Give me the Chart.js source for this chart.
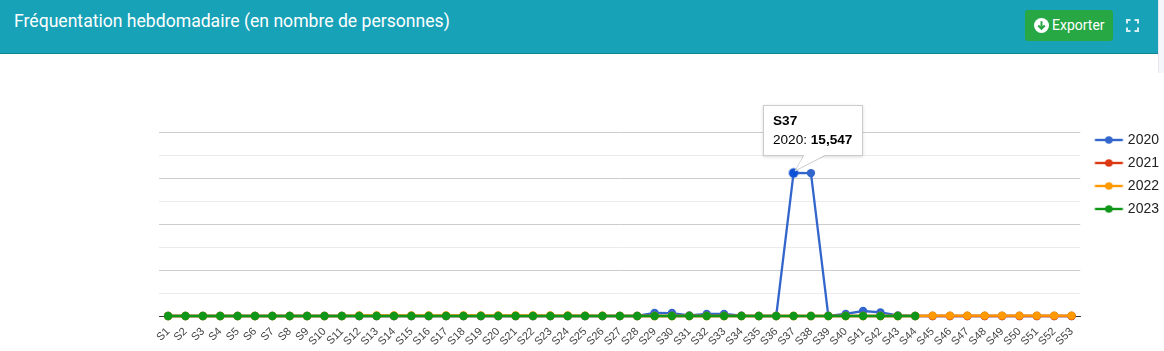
<!DOCTYPE html>
<html lang="fr">
<head>
<meta charset="utf-8">
<title>Fréquentation hebdomadaire</title>
<script src="https://cdn.jsdelivr.net/npm/chart.js@4"></script>
<style>
  html, body { margin: 0; padding: 0; background: #fff; overflow: hidden; }
  body { width: 1164px; height: 351px; position: relative; }
  .strip { position: absolute; left: 1158px; top: 0; width: 6px; height: 73px; background: #f4f6f9; border-left: 1px solid #e6e8ee; box-sizing: border-box; }
  .header {
    position: absolute; left: 0; top: 0; width: 1158px; height: 54px;
    background: #17a2b8; border-bottom: 1px solid #138496; box-sizing: border-box;
  }
  .header h3 {
    position: absolute; left: 14px; top: 11px; margin: 0;
    font: 400 17.6px Roboto, sans-serif; color: #fff; white-space: nowrap;
  }
  .btn {
    position: absolute; left: 1025px; top: 10px; width: 88px; height: 31px;
    background: #28a745; border-radius: 3px; color: #fff;
    font: 400 14px Roboto, sans-serif; line-height: 31px;
  }
  .btn svg { position: absolute; left: 9px; top: 8px; }
  .btn span { position: absolute; left: 27px; top: 0; }
  .expand { position: absolute; left: 1126px; top: 19px; }
  #wrap { position: absolute; left: 0; top: 53px; width: 1164px; height: 298px; }
  #tip { position: absolute; font: 13.6px "Liberation Sans", Arial, sans-serif; color: #000; pointer-events: none; display: none; }
  #tipTail { position: absolute; left: 0; top: 0; }
  #tipBox {
    position: absolute; left: 0; top: 0; width: 100px; height: 51px; box-sizing: border-box;
    background: #fff; border: 1px solid #ccc; box-shadow: 0 1px 3px rgba(0,0,0,.15);
    padding: 5px 0 0 9px; line-height: 19px; white-space: nowrap;
  }
</style>
</head>
<body>
<div class="strip"></div>
<div class="header">
  <h3>Fréquentation hebdomadaire (en nombre de personnes)</h3>
  <div class="btn">
    <svg width="15" height="15" viewBox="0 0 15 15"><circle cx="7.5" cy="7.5" r="7.5" fill="#fff"/><path d="M7.5 3.2v7.6M4.2 7.5l3.3 3.3 3.3-3.3" fill="none" stroke="#28a745" stroke-width="2"/></svg>
    <span>Exporter</span>
  </div>
  <svg class="expand" width="13" height="13" viewBox="0 0 13 13"><path d="M1 4.5V1h3.5M8.5 1H12v3.5M12 8.5V12H8.5M4.5 12H1V8.5" fill="none" stroke="#d5eef2" stroke-width="2"/></svg>
</div>
<div id="wrap">
  <canvas id="chart" width="1164" height="298"></canvas>
  <div id="tip">
    <svg id="tipTail" width="100" height="70"><path d="M41 50L32 66L63 50" fill="#fff" stroke="#ccc"/></svg>
    <div id="tipBox"><b id="tipTitle"></b><br><span id="tipLabel"></span><b id="tipValue"></b></div>
    <svg width="100" height="70" style="position:absolute;left:0;top:0"><path d="M41.5 50L34 63L62 50Z" fill="#fff"/></svg>
  </div>
</div>
<script>
const weeks = ["S1","S2","S3","S4","S5","S6","S7","S8","S9","S10","S11","S12","S13","S14","S15","S16","S17","S18","S19","S20","S21","S22","S23","S24","S25","S26","S27","S28","S29","S30","S31","S32","S33","S34","S35","S36","S37","S38","S39","S40","S41","S42","S43","S44","S45","S46","S47","S48","S49","S50","S51","S52","S53"];

const values2020 = [0,0,0,0,0,0,0,0,0,0,0,0,0,0,0,0,0,0,0,0,0,0,0,0,0,0,0,0,330,320,60,220,230,30,0,0,15547,15530,20,220,540,390,70,0,0,0,0,0,0,0,0,0,0];
const values2021 = [0,0,0,0,0,0,0,0,0,0,0,0,0,0,0,0,0,0,0,0,0,0,0,0,0,0,0,0,0,0,0,0,0,0,0,0,0,0,0,0,0,0,0,0,0,0,0,0,0,0,0,0,0];
const values2022 = [0,0,0,0,0,0,0,0,0,0,0,70,70,70,70,70,70,70,70,70,60,60,50,50,40,20,10,0,0,0,0,0,0,0,0,0,0,0,0,0,0,0,0,0,40,40,40,40,40,40,40,40,40];
const values2023 = [0,0,0,0,0,0,0,0,0,0,0,0,0,0,0,0,0,0,0,0,0,0,0,0,0,0,0,0,0,0,0,0,0,0,0,0,0,0,0,0,0,0,0,0,null,null,null,null,null,null,null,null,null];

const blue = "#3366cc";
const red = "#dc3912";
const orange = "#ff9900";
const green = "#109618";

// petite icone de legende : un trait avec un point au milieu
function legendIcon(color) {
  const c = document.createElement("canvas");
  c.width = 38;
  c.height = 12;
  const g = c.getContext("2d");
  g.strokeStyle = color;
  g.lineWidth = 2.4;
  g.beginPath();
  g.moveTo(8.5, 6);
  g.lineTo(36.5, 6);
  g.stroke();
  g.fillStyle = color;
  g.beginPath();
  g.arc(22.5, 6, 3.8, 0, Math.PI * 2);
  g.fill();
  return c;
}

function makeSeries(label, data, color, order) {
  return {
    label: label,
    data: data,
    borderColor: color,
    backgroundColor: color,
    borderWidth: 2.3,
    pointRadius: 4.2,
    pointHoverRadius: 4.5,
    pointBorderWidth: 0,
    pointHoverBorderWidth: 2,
    pointHoverBorderColor: "rgba(51,102,204,0.35)",
    tension: 0,
    clip: false,
    order: order,
    legendImage: legendIcon(color),
  };
}

function showTip(context) {
  const tip = document.getElementById("tip");
  const model = context.tooltip;
  if (model.opacity === 0) {
    tip.style.display = "none";
    return;
  }
  const item = model.dataPoints[0];
  document.getElementById("tipTitle").textContent = item.label;
  document.getElementById("tipLabel").textContent = item.dataset.label + ": ";
  document.getElementById("tipValue").textContent = item.formattedValue;
  tip.style.display = "block";
  tip.style.left = Math.round(model.caretX) - 31 + "px";
  tip.style.top = model.caretY - 68 + "px";
}

// la legende commence plus haut que le haut du graphique
const moveLegend = {
  id: "moveLegend",
  afterLayout(c) {
    c.legend.top -= 8;
    c.legend.bottom -= 8;
    c.legend.left += 0.6;
    c.legend.right += 0.6;
  },
};

const chart = new Chart(document.getElementById("chart"), {
  type: "line",
  data: {
    labels: weeks,
    datasets: [
      makeSeries("2020", values2020, blue, 4),
      makeSeries("2021", values2021, red, 3),
      makeSeries("2022", values2022, orange, 2),
      makeSeries("2023", values2023, green, 1),
    ],
  },
  plugins: [moveLegend],
  options: {
    responsive: false,
    animation: false,
    events: [],
    layout: { padding: { left: 159.4, top: 79, right: -4.4, bottom: 0 } },
    scales: {
      x: {
        offset: true,
        afterFit: (scale) => { scale.height = 35; },
        grid: { display: false },
        border: { color: "#333333", width: 1 },
        ticks: {
          autoSkip: false,
          minRotation: 45,
          maxRotation: 45,
          padding: 1,
          color: "#444444",
          font: { family: "'Liberation Sans', Arial, sans-serif", size: 11 },
        },
      },
      y: {
        min: 0,
        max: 20000,
        afterFit: (scale) => { scale.width = 0; },
        border: { display: false },
        ticks: { display: false, stepSize: 2500 },
        grid: {
          drawTicks: false,
          color: (ctx) => (ctx.tick.value % 5000 === 0 ? "#cccccc" : "#ebebeb"),
        },
      },
    },
    plugins: {
      title: { display: false },
      legend: {
        position: "right",
        align: "start",
        labels: {
          usePointStyle: true,
          pointStyleWidth: 31,
          padding: 9,
          color: "#222222",
          font: { family: "'Liberation Sans', Arial, sans-serif", size: 14 },
          generateLabels: (c) => c.data.datasets.map((d, i) => ({
            text: d.label,
            fontColor: "#222222",
            pointStyle: d.legendImage,
            datasetIndex: i,
            lineWidth: 0,
          })),
        },
      },
      tooltip: { enabled: false, external: showTip },
    },
  },
});

// la semaine S37 de 2020 est affichee survolee, comme sur l'original
const peak = [{ datasetIndex: 0, index: weeks.indexOf("S37") }];
chart.setActiveElements(peak);
chart.tooltip.setActiveElements(peak, { x: 0, y: 0 });
chart.update();
</script>
</body>
</html>
